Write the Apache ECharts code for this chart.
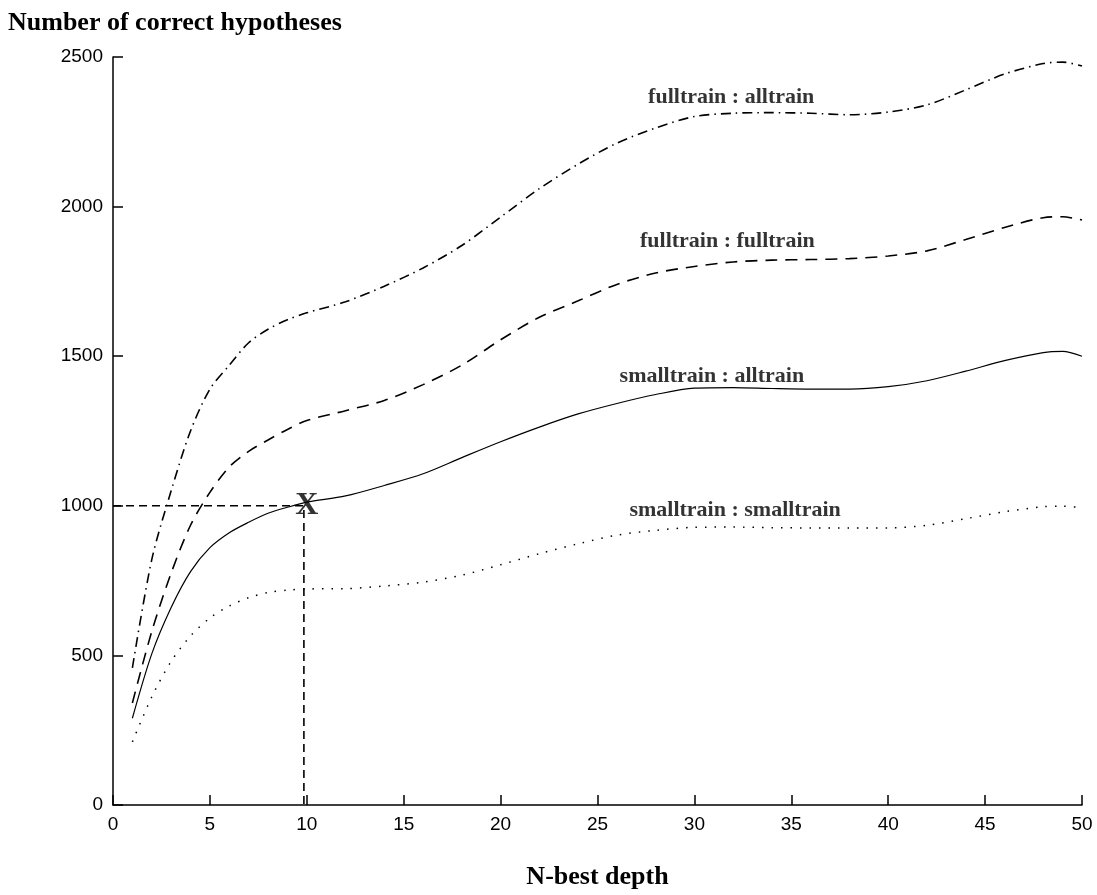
<!DOCTYPE html>
<html>
<head>
<meta charset="utf-8">
<title>N-best depth</title>
<script src="https://cdn.jsdelivr.net/npm/echarts@6/dist/echarts.min.js"></script>
<style>
  html, body { margin: 0; background: #fff; }
  #chart { width: 1097px; height: 895px; }
</style>
</head>
<body>
<div id="chart"></div>
<script>
// N-best depth (x) and number of correct hypotheses for each train/test setup
const depth = [1, 2, 3, 4, 5, 6, 7, 8, 9, 10, 12, 14, 16, 18, 20, 22, 24, 26, 28, 30,
  32, 34, 36, 38, 40, 42, 44, 46, 48, 49, 50];
const fullAll = [458, 820, 1050, 1250, 1390, 1470, 1545, 1590, 1622, 1645, 1682, 1734, 1795, 1870,
  1965, 2060, 2142, 2212, 2263, 2301, 2312, 2314, 2312, 2307, 2316, 2340, 2390, 2443, 2478, 2483, 2470];
const fullFull = [341, 580, 775, 935, 1045, 1130, 1182, 1220, 1255, 1285, 1318, 1352, 1405, 1470,
  1555, 1630, 1685, 1740, 1778, 1800, 1815, 1821, 1823, 1826, 1835, 1852, 1890, 1930, 1963, 1966, 1955];
const smallAll = [290, 505, 660, 780, 860, 910, 945, 975, 995, 1012, 1033, 1068, 1107, 1161,
  1214, 1263, 1307, 1342, 1372, 1393, 1395, 1392, 1390, 1390, 1398, 1418, 1450, 1485, 1512, 1516, 1500];
const smallSmall = [211, 361, 480, 565, 625, 665, 693, 710, 718, 722, 723, 732, 745, 768,
  803, 840, 873, 902, 918, 928, 929, 927, 926, 926, 926, 935, 957, 980, 997, 999, 993];

const seriesNames = ['fulltrain : alltrain', 'fulltrain : fulltrain', 'smalltrain : alltrain', 'smalltrain : smalltrain'];

// the marked point "X" at depth 10
const markDepth = 9.85;
const markValue = 1000;

const serif = 'Liberation Serif, Times New Roman, serif';
const sans = 'Liberation Sans, Arial, sans-serif';

function pairs(ys) {
  return depth.map((d, i) => [d, ys[i]]);
}

function curve(name, ys, dash, width) {
  return {
    name: name,
    type: 'line',
    data: pairs(ys),
    smooth: 0.3,
    symbol: 'none',
    silent: true,
    lineStyle: { color: '#000', width: width, type: dash }
  };
}

// where each curve's name is written (data coords)
const labelSpots = [[31.9, 2366], [31.7, 1885], [30.9, 1434], [32.1, 986]];

const chart = echarts.init(document.getElementById('chart'));
chart.setOption({
  animation: false,
  backgroundColor: '#fff',
  title: {
    text: 'Number of correct hypotheses',
    left: 3,
    top: 5,
    textStyle: { fontFamily: serif, fontWeight: 'bold', fontSize: 26, color: '#000' }
  },
  grid: { left: 113, right: 15, top: 57, bottom: 90, containLabel: false, outerBoundsMode: 'none' },
  xAxis: {
    type: 'value',
    min: 0,
    max: 50,
    interval: 5,
    name: 'N-best depth',
    nameLocation: 'middle',
    nameGap: 59,
    nameTextStyle: { fontFamily: serif, fontWeight: 'bold', fontSize: 26, color: '#000' },
    axisLine: { lineStyle: { color: '#000', width: 1.5 } },
    axisTick: { inside: true, length: 10, lineStyle: { color: '#000', width: 1.5 } },
    axisLabel: { fontFamily: sans, fontSize: 19, color: '#000', margin: 10 },
    splitLine: { show: false }
  },
  yAxis: {
    type: 'value',
    min: 0,
    max: 2500,
    interval: 500,
    axisLine: { show: true, lineStyle: { color: '#000', width: 1.5 } },
    axisTick: { show: true, inside: true, length: 10, lineStyle: { color: '#000', width: 1.5 } },
    axisLabel: { fontFamily: sans, fontSize: 19, color: '#000', margin: 10, formatter: (v) => String(v) },
    splitLine: { show: false }
  },
  series: [
    curve(seriesNames[0], fullAll, [10, 5, 1.5, 5], 1.6),
    curve(seriesNames[1], fullFull, [12, 8], 1.6),
    curve(seriesNames[2], smallAll, 'solid', 1.2),
    curve(seriesNames[3], smallSmall, [1.5, 8], 1.5),
    {
      type: 'line',
      silent: true,
      symbol: 'none',
      data: [[0, markValue], [markDepth, markValue], [markDepth, 0]],
      lineStyle: { color: '#000', width: 1.6, type: [8, 5] }
    },
    {
      type: 'scatter',
      silent: true,
      symbolSize: 1,
      itemStyle: { color: 'rgba(0,0,0,0)' },
      data: [[10, markValue]],
      label: {
        show: true,
        position: 'inside',
        formatter: 'X',
        fontFamily: serif,
        fontWeight: 'bold',
        fontSize: 32,
        color: '#000'
      }
    },
    {
      type: 'scatter',
      silent: true,
      symbolSize: 1,
      itemStyle: { color: 'rgba(0,0,0,0)' },
      data: labelSpots.map((p, i) => ({ value: p, name: seriesNames[i] })),
      label: {
        show: true,
        position: 'inside',
        formatter: (p) => p.name,
        fontFamily: serif,
        fontWeight: 'bold',
        fontSize: 22,
        color: '#000'
      }
    }
  ]
});
</script>
</body>
</html>
